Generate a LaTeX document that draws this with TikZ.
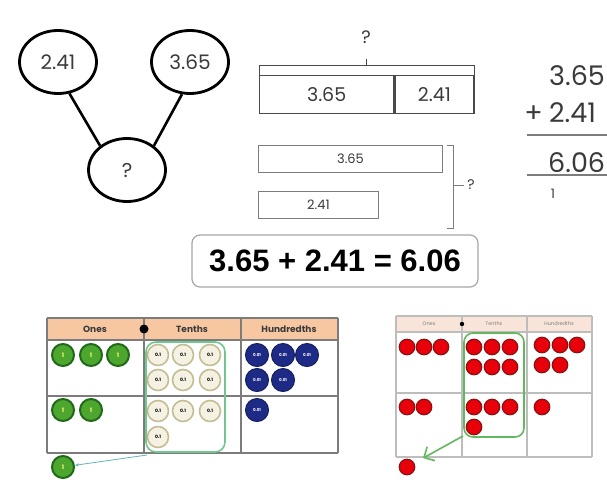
\documentclass[tikz,border=0pt]{standalone}
\usepackage{fontspec}
\setmainfont{Poppins}
\newfontfamily\sumfont{Liberation Sans}
\usetikzlibrary{shapes.geometric}
\usetikzlibrary{arrows.meta}
\usetikzlibrary{calc}

\definecolor{inkgrey}{HTML}{3A3A3A}
\definecolor{barline}{HTML}{4A4A4A}
\definecolor{gridgrey}{HTML}{7C7C7C}
\definecolor{gridpale}{HTML}{BDBDBD}
\definecolor{headpeach}{HTML}{F7C7A2}
\definecolor{headpale}{HTML}{F8E4D8}
\definecolor{onegreen}{HTML}{4DA72E}
\definecolor{onegreendark}{HTML}{21691A}
\definecolor{tenthfill}{HTML}{F5F2E4}
\definecolor{tenthedge}{HTML}{C4BD93}
\definecolor{hundblue}{HTML}{1E2B86}
\definecolor{groupgreen}{HTML}{72C690}
\definecolor{arrowgreen}{HTML}{63B85F}
\definecolor{carryteal}{HTML}{62B6B8}
\definecolor{dotred}{HTML}{E8000B}
\definecolor{dotredge}{HTML}{8C1212}

\tikzset{
  bond/.style={ellipse, draw=black, line width=2.8pt, minimum width=77pt,
    minimum height=63pt, text=inkgrey, font=\fontsize{20}{23}\selectfont},
  bondline/.style={black, line width=2.6pt},
  barbox/.style={draw=barline, line width=1.3pt, text=inkgrey, anchor=north west,
    inner sep=0pt, font=\fontsize{19}{22}\selectfont},
  thinbar/.style={draw=gridgrey, line width=1pt, text=inkgrey, anchor=north west,
    inner sep=0pt, minimum height=27pt, font=\fontsize{13}{15}\selectfont},
  colnum/.style={anchor=base west, inner sep=0pt, text=inkgrey,
    font=\fontsize{27}{30}\selectfont},
  onecnt/.style={circle, draw=onegreendark, line width=2pt, fill=onegreen,
    minimum size=22pt, inner sep=0pt, text=yellow!55!white,
    font=\fontsize{6}{6}\selectfont\bfseries},
  tenthcnt/.style={circle, draw=tenthedge, line width=1.6pt, fill=tenthfill,
    minimum size=21pt, inner sep=0pt, text=black,
    font=\fontsize{4.5}{5}\selectfont\bfseries},
  hundcnt/.style={circle, draw=hundblue!70!black, line width=1pt, fill=hundblue,
    minimum size=23pt, inner sep=0pt, text=white,
    font=\fontsize{4}{5}\selectfont\bfseries},
  redcnt/.style={circle, draw=dotredge, line width=1.2pt, fill=dotred,
    minimum size=15.5pt, inner sep=0pt},
  headtxt/.style={text=inkgrey, font=\fontsize{9}{10}\selectfont\bfseries},
  smallhead/.style={text=gray, font=\fontsize{5}{6}\selectfont}
}

\begin{document}
\begin{tikzpicture}[x=1pt, y=-1pt]
  \useasboundingbox (0,0) rectangle (607,479);

  % number bond
  \node[bond] (leftpart) at (58,62) {2.41};
  \node[bond] (rightpart) at (190,62) {3.65};
  \node[bond] (whole) at (127,170) {?};
  \draw[bondline] (leftpart.-70) -- (whole.138);
  \draw[bondline] (rightpart.-104) -- (whole.42);

  % bar model
  \node[barbox, minimum width=134pt, minimum height=38pt] (barA) at (259,75) {3.65};
  \node[barbox, minimum width=79pt, minimum height=38pt] (barB) at (barA.north east) {2.41};
  \draw[barline, line width=1pt] (barA.north west) -- ++(0,-10) coordinate (braceL)
    -- (braceL -| barB.north east) coordinate (braceR) -- (barB.north east);
  \node[text=inkgrey, font=\fontsize{18}{20}\selectfont] (sumq) at (366,37) {?};
  \draw[barline, line width=1pt] ($(braceL)!0.5!(braceR)$) -- ++(0,-6);

  \node[thinbar, minimum width=184pt] (longbar) at (258,145) {3.65};
  \node[thinbar, minimum width=120pt] (shortbar) at (258,191) {2.41};
  \draw[gridgrey, line width=0.9pt] (447,145) -- (453,145) -- (453,228) -- (447,228);
  \node[text=inkgrey, font=\fontsize{14}{16}\selectfont] (diffq) at (471,185) {?};
  \draw[gridgrey, line width=0.9pt] (453,185) -- (diffq.west);

  % column addition
  \node[colnum] (topnum) at (549,85) {3.65};
  \node[colnum] (plusnum) at (549,122) {2.41};
  \node[anchor=base east, inner sep=0pt, text=inkgrey,
    font=\fontsize{27}{30}\selectfont] (plussign) at (543,122) {+};
  \draw[gridgrey, line width=1.1pt] (527,135) -- (614,135);
  \node[colnum] (sumnum) at (548,172) {6.06};
  \draw[gridgrey, line width=1.1pt] (527,175) -- (614,175);
  \node[anchor=base, inner sep=0pt, text=inkgrey,
    font=\fontsize{13}{15}\selectfont] (carrynum) at (553,198) {1};

  % equation
  \node[draw=gray!70, line width=1.2pt, rounded corners=8pt, minimum width=286pt,
    minimum height=52pt, font=\sumfont\fontsize{31}{34}\selectfont\bfseries]
    (sumbox) at (335,261) {3.65 + 2.41 = 6.06};

  % place value chart with counters
  \fill[headpeach] (47,318) rectangle (338,340);
  \foreach \gx in {47,144,241,338}
    \draw[gridgrey, line width=1.1pt] (\gx,318) -- (\gx,453);
  \foreach \gy in {318,340,396,453}
    \draw[gridgrey, line width=1.1pt] (47,\gy) -- (338,\gy);
  \node[headtxt] (onesA) at (95,329) {Ones};
  \node[headtxt] (tenthsA) at (192,329) {Tenths};
  \node[headtxt] (hundA) at (289,329) {Hundredths};
  \fill[black] (144,329) circle (4.5);

  \foreach \x/\y [count=\i] in {63/355,91/355,118/355,63/410,91/410}
    \node[onecnt] (one\i) at (\x,\y) {1};
  \foreach \x/\y [count=\i] in {158/355,183/355,210/355,158/380,183/380,210/380,
      158/411,183/411,210/411,158/437}
    \node[tenthcnt] (tenth\i) at (\x,\y) {0.1};
  \foreach \x/\y [count=\i] in {257/355,283/355,307/355,257/380,283/380,257/410}
    \node[hundcnt] (hund\i) at (\x,\y) {0.01};
  \draw[groupgreen, line width=1.6pt, rounded corners=10pt] (146,342) rectangle (225,452);
  \node[onecnt] (newone) at (63,467) {1};
  \coordinate (tenthsout) at (147,455);
  \draw[carryteal, line width=0.8pt, -{Stealth[length=4pt, width=3pt]}] (tenthsout) -- (newone);

  % place value chart with dots
  \fill[headpale] (396,316) rectangle (592,332);
  \foreach \gx in {396,462,527,592}
    \draw[gridpale, line width=1.1pt] (\gx,316) -- (\gx,457);
  \foreach \gy in {316,332,393,457}
    \draw[gridpale, line width=1.1pt] (396,\gy) -- (592,\gy);
  \node[smallhead] (onesB) at (429,324) {Ones};
  \node[smallhead] (tenthsB) at (494,324) {Tenths};
  \node[smallhead] (hundB) at (559,324) {Hundredths};
  \fill[black] (462,324) circle (2.2);

  \foreach \x/\y [count=\i] in {407/347,424/347,441/347,407/407,424/407}
    \node[redcnt] (dotone\i) at (\x,\y) {};
  \foreach \x/\y [count=\i] in {474/347,492/347,510/347,474/367,492/367,510/367,
      474/407,492/407,510/407,474/427}
    \node[redcnt] (dottenth\i) at (\x,\y) {};
  \foreach \x/\y [count=\i] in {542/345,560/345,577/345,542/365,560/365,542/407}
    \node[redcnt] (dothund\i) at (\x,\y) {};
  \draw[arrowgreen, line width=1.6pt, rounded corners=9pt] (464,333) rectangle (524,437);
  \node[redcnt] (newdot) at (407,467) {};
  \coordinate (dotsout) at (463,436);
  \draw[arrowgreen, line width=1.6pt, shorten >=10pt,
    -{Straight Barb[length=8pt, width=16pt]}] (dotsout) -- (newdot);
\end{tikzpicture}
\end{document}
